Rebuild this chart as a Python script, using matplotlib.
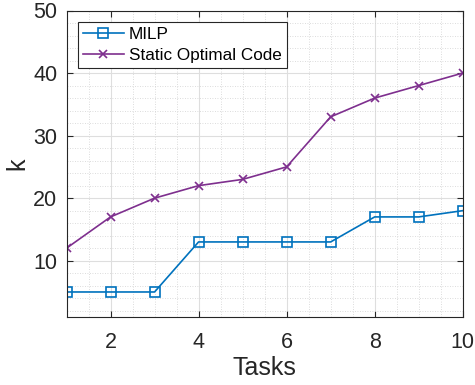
import matplotlib
matplotlib.use("Agg")
import matplotlib.pyplot as plt
from matplotlib.ticker import MultipleLocator

plt.rcParams["font.family"] = ["Liberation Sans", "DejaVu Sans"]

tasks = [1, 2, 3, 4, 5, 6, 7, 8, 9, 10]
milp = [5, 5, 5, 13, 13, 13, 13, 17, 17, 18]
static_opt = [12, 17, 20, 22, 23, 25, 33, 36, 38, 40]

axis_col = "#262626"

# axes box in pixels, measured on the reference
left, right, top, bottom = 66.5, 462.7, 10.5, 317
fig = plt.figure(figsize=(4.75, 3.85), dpi=100)
ax = fig.add_axes([left / 475, 1 - bottom / 385, (right - left) / 475, (bottom - top) / 385])

ax.plot(tasks, milp, color="#0072BD", marker="s", markersize=6.5,
        markerfacecolor="none", markeredgewidth=1.2, linewidth=1.2, label="MILP")
ax.plot(tasks, static_opt, color="#7E2F8E", marker="x", markersize=6,
        markeredgewidth=1.2, linewidth=1.2, label="Static Optimal Code")

ax.set_xlim(1, 10)
ax.set_ylim(1, 50)
ax.xaxis.set_major_locator(MultipleLocator(2))
ax.xaxis.set_minor_locator(MultipleLocator(0.5))
ax.yaxis.set_major_locator(MultipleLocator(10))
ax.yaxis.set_minor_locator(MultipleLocator(2))

ax.grid(which="major", color="#dedede", linewidth=0.8)
ax.grid(which="minor", color="#d0d0d0", linestyle=(0, (1, 2)), linewidth=0.6)
ax.set_axisbelow(True)

ax.tick_params(which="major", direction="in", length=4, top=True, right=True,
               colors=axis_col, labelsize=15.5, width=0.8)
ax.tick_params(axis="x", which="major", pad=11)
ax.tick_params(axis="y", which="major", pad=6.5)
ax.tick_params(which="minor", length=0, top=True, right=True)
for s in ax.spines.values():
    s.set_color(axis_col)
    s.set_linewidth(0.8)

ax.set_xlabel("Tasks", fontsize=18, color=axis_col, labelpad=2)
ax.set_ylabel("k", fontsize=18, color=axis_col, labelpad=3)

leg = ax.legend(loc="upper left", fontsize=12.3, fancybox=False, framealpha=1,
                edgecolor=axis_col, borderaxespad=0.65, handlelength=2.4,
                handletextpad=0.3, borderpad=0.3, labelspacing=0.35)
leg.get_frame().set_linewidth(0.8)

fig.savefig("out.png", dpi=100)
